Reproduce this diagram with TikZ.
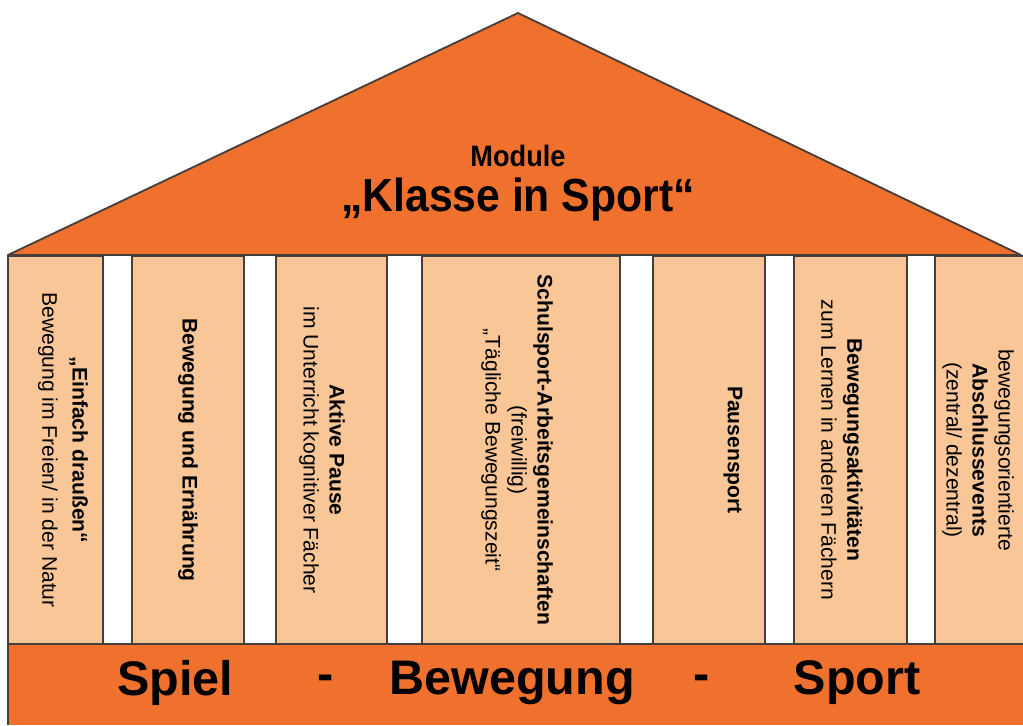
\documentclass[tikz,border=0pt]{standalone}
\usepackage{fontspec}
\setmainfont{Liberation Sans}
\definecolor{rooforange}{RGB}{240,112,46}
\definecolor{pillarfill}{RGB}{249,198,152}
\definecolor{edgegray}{RGB}{70,62,58}

\begin{document}
\begin{tikzpicture}[x=0.025cm, y=-0.025cm,
    pillar/.style={fill=pillarfill, draw=edgegray, line width=1.3pt},
    ptext/.style={rotate=-90, align=center, inner sep=0, font=\fontsize{15}{18.5}\selectfont},
    basetext/.style={inner sep=0, font=\fontsize{34.5}{40}\selectfont\bfseries}]
  \useasboundingbox (0,0) rectangle (1023,725);
  % roof
  \filldraw[fill=rooforange, draw=edgegray, line width=1.3pt, line join=round] (8,255) -- (518,13) -- (1021,255) -- cycle;
  \node[inner sep=0, xscale=0.92, font=\fontsize{21}{25}\selectfont\bfseries] (module) at (518,156) {Module};
  \node[inner sep=0, xscale=0.92, font=\fontsize{33}{38}\selectfont\bfseries] (klasse) at (518,199) {„Klasse in Sport“};
  % pillars
  \filldraw[pillar] (8,256) rectangle (103,644);
  \filldraw[pillar] (132,256) rectangle (244,644);
  \filldraw[pillar] (276,256) rectangle (387,644);
  \filldraw[pillar] (422,256) rectangle (620,644);
  \filldraw[pillar] (653,256) rectangle (765,644);
  \filldraw[pillar] (794,256) rectangle (907,644);
  \filldraw[pillar] (935,256) rectangle (1030,644);
  \node[ptext] (p1) at (63,450) {\textbf{„Einfach draußen“}\\[3pt]Bewegung im Freien/ in der Natur};
  \node[ptext] (p2) at (188,450) {\textbf{Bewegung und Ernährung}};
  \node[ptext] (p3) at (322,450) {\textbf{Aktive Pause}\\im Unterricht kognitiver Fächer};
  \node[ptext] (p4) at (517,450) {\textbf{Schulsport-Arbeitsgemeinschaften}\\(freiwillig)\\„Tägliche Bewegungszeit“};
  \node[ptext] (p5) at (733,450) {\textbf{Pausensport}};
  \node[ptext] (p6) at (842,450) {\textbf{Bewegungsaktivitäten}\\zum Lernen in anderen Fächern};
  \node[ptext] (p7) at (978,450) {bewegungsorientierte\\\textbf{Abschlussevents}\\(zentral/ dezentral)};
  % base
  \fill[rooforange] (8,644) rectangle (1023,725);
  \draw[edgegray, line width=1.3pt] (8,725) -- (8,644) -- (1023,644);
  \node[basetext] (spiel) at (175,683) {Spiel};
  \node[basetext] (dash1) at (326,683) {-};
  \node[basetext] (bewegung) at (512,683) {Bewegung};
  \node[basetext] (dash2) at (702,683) {-};
  \node[basetext] (sport) at (857,683) {Sport};
\end{tikzpicture}
\end{document}
